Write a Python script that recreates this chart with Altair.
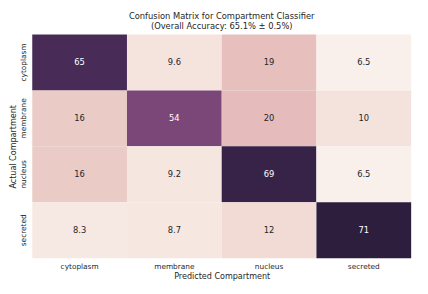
import altair as alt
import pandas as pd
import numpy as np

classes = ["cytoplasm", "membrane", "nucleus", "secreted"]
values = [
    [65, 9.6, 19, 6.5],
    [16, 54, 20, 10],
    [16, 9.2, 69, 6.5],
    [8.3, 8.7, 12, 71],
]

rows = []
for i, a in enumerate(classes):
    for j, p in enumerate(classes):
        v = values[i][j]
        rows.append({"actual": a, "predicted": p, "value": v,
                     "label": f"{v:g}"})
df = pd.DataFrame(rows)

# seaborn-style cubehelix colormap (light -> dark)
def cubehelix(x, start=0.0, rot=0.4, gamma=1.0, hue=0.8):
    xg = x ** gamma
    a = hue * xg * (1 - xg) / 2
    phi = 2 * np.pi * (start / 3 + rot * x)
    r = xg + a * (-0.14861 * np.cos(phi) + 1.78277 * np.sin(phi))
    g = xg + a * (-0.29227 * np.cos(phi) - 0.90649 * np.sin(phi))
    b = xg + a * (1.97294 * np.cos(phi))
    return "#%02x%02x%02x" % tuple(int(round(255 * min(max(c, 0), 1))) for c in (r, g, b))

stops = [cubehelix(x) for x in np.linspace(0.95, 0.15, 32)]
vmin = min(min(r) for r in values)
vmax = max(max(r) for r in values)

font = "DejaVu Sans"
W, H = 386, 228

base = alt.Chart(df).encode(
    x=alt.X("predicted:N", sort=classes,
            scale=alt.Scale(paddingInner=0, paddingOuter=0),
            axis=alt.Axis(title="Predicted Compartment", orient="bottom",
                          domain=False, ticks=False, labelAngle=0,
                          labelFont=font, labelFontSize=7.5, labelColor="#262626",
                          labelPadding=4, titleFont=font, titleFontSize=8.2,
                          titleFontWeight="normal", titleColor="#262626",
                          titlePadding=3)),
    y=alt.Y("actual:N", sort=classes,
            scale=alt.Scale(paddingInner=0, paddingOuter=0),
            axis=alt.Axis(title="Actual Compartment", domain=False, ticks=False,
                          labelAngle=270, labelAlign="center", labelBaseline="bottom",
                          labelFont=font, labelFontSize=7.5, labelColor="#262626",
                          labelPadding=4.5, titleFont=font, titleFontSize=8.2,
                          titleFontWeight="normal", titleColor="#262626",
                          titleAngle=270, titleAlign="center", titleBaseline="middle",
                          titleX=-19.5, titleY=H / 2)),
)

rects = base.mark_rect(stroke=None).encode(
    color=alt.Color("value:Q", legend=None,
                    scale=alt.Scale(domain=[vmin, vmax], range=stops,
                                    interpolate="rgb")),
)

texts = base.mark_text(font=font, fontSize=8.5).encode(
    text="label:N",
    color=alt.condition(alt.datum.value > 40, alt.value("#ffffff"), alt.value("#262626")),
)

chart = alt.layer(rects, texts).properties(
    width=W, height=H,
    title=alt.TitleParams(
        text=["Confusion Matrix for Compartment Classifier",
              "(Overall Accuracy: 65.1% \u00b1 0.5%)"],
        font=font, fontSize=8.5, fontWeight="normal", color="#262626",
        anchor="middle", offset=4, lineHeight=10),
    autosize=alt.AutoSizeParams(type="none"),
    padding={"left": 24.7, "top": 24.3, "right": 9, "bottom": 30},
).configure_view(stroke=None)

chart.save("out.html", embed_options={"renderer": "svg", "actions": False})
